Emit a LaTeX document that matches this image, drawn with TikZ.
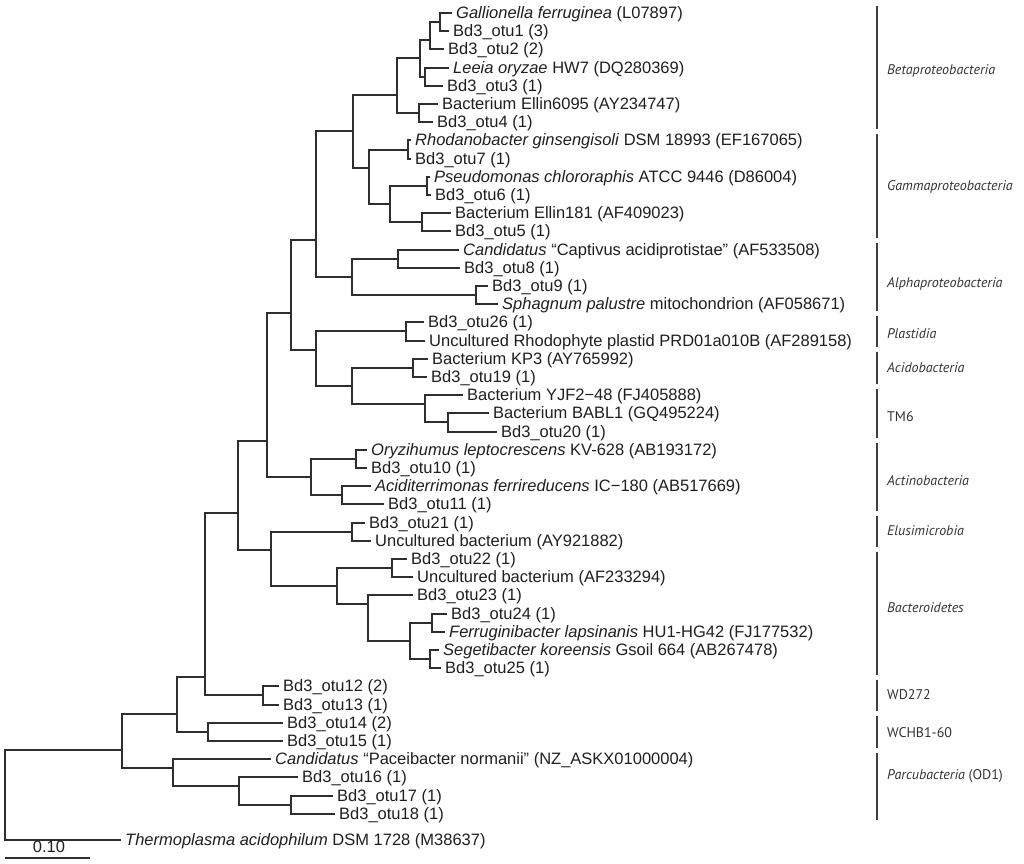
\documentclass[tikz,border=0pt]{standalone}
\usepackage{fontspec}
\setmainfont{Liberation Sans}
\newfontfamily\cladefont{PT Sans}
\begin{document}
\begin{tikzpicture}[x=1pt,y=-1pt,
  br/.style={draw=black!82, line width=2pt},
  cbar/.style={draw=black!75, line width=2pt},
  leaf/.style={anchor=west, inner xsep=4pt, inner ysep=0pt, text height=11.8pt, text depth=0pt, font=\fontsize{16.5}{18}\selectfont, text=black!88},
  clade/.style={anchor=west, inner sep=0pt, text height=9.8pt, text depth=0pt, font=\cladefont\fontsize{14}{16}\selectfont, text=black!80}]
\useasboundingbox (0,0) rectangle (1024,863);
% ---------- leaves ----------
\node[leaf] (L0) at (452,13) {\textit{Gallionella ferruginea} (L07897)};
\node[leaf] (L1) at (449,31) {Bd3\_otu1 (3)};
\node[leaf] (L2) at (444,49) {Bd3\_otu2 (2)};
\node[leaf] (L3) at (449,68) {\textit{Leeia oryzae} HW7 (DQ280369)};
\node[leaf] (L4) at (443,86) {Bd3\_otu3 (1)};
\node[leaf] (L5) at (438,104) {Bacterium Ellin6095 (AY234747)};
\node[leaf] (L6) at (433,122) {Bd3\_otu4 (1)};
\node[leaf] (L7) at (411,140) {\textit{Rhodanobacter ginsengisoli} DSM 18993 (EF167065)};
\node[leaf] (L8) at (411,159) {Bd3\_otu7 (1)};
\node[leaf] (L9) at (430,177) {\textit{Pseudomonas chlororaphis} ATCC 9446 (D86004)};
\node[leaf] (L10) at (431,195) {Bd3\_otu6 (1)};
\node[leaf] (L11) at (451,213) {Bacterium Ellin181 (AF409023)};
\node[leaf] (L12) at (451,231) {Bd3\_otu5 (1)};
\node[leaf] (L13) at (459,250) {\textit{Candidatus} “Captivus acidiprotistae" (AF533508)};
\node[leaf] (L14) at (460,268) {Bd3\_otu8 (1)};
\node[leaf] (L15) at (488,286) {Bd3\_otu9 (1)};
\node[leaf] (L16) at (498,304) {\textit{Sphagnum palustre} mitochondrion (AF058671)};
\node[leaf] (L17) at (424,322) {Bd3\_otu26 (1)};
\node[leaf] (L18) at (425,341) {Uncultured Rhodophyte plastid PRD01a010B (AF289158)};
\node[leaf] (L19) at (428,359) {Bacterium KP3 (AY765992)};
\node[leaf] (L20) at (427,377) {Bd3\_otu19 (1)};
\node[leaf] (L21) at (463,395) {Bacterium YJF2−48 (FJ405888)};
\node[leaf] (L22) at (489,413) {Bacterium BABL1 (GQ495224)};
\node[leaf] (L23) at (497,432) {Bd3\_otu20 (1)};
\node[leaf] (L24) at (367,450) {\textit{Oryzihumus leptocrescens} KV-628 (AB193172)};
\node[leaf] (L25) at (367,468) {Bd3\_otu10 (1)};
\node[leaf] (L26) at (371,486) {\textit{Aciditerrimonas ferrireducens} IC−180 (AB517669)};
\node[leaf] (L27) at (384,504) {Bd3\_otu11 (1)};
\node[leaf] (L28) at (365,523) {Bd3\_otu21 (1)};
\node[leaf] (L29) at (371,541) {Uncultured bacterium (AY921882)};
\node[leaf] (L30) at (407,559) {Bd3\_otu22 (1)};
\node[leaf] (L31) at (413,577) {Uncultured bacterium (AF233294)};
\node[leaf] (L32) at (413,595) {Bd3\_otu23 (1)};
\node[leaf] (L33) at (447,614) {Bd3\_otu24 (1)};
\node[leaf] (L34) at (445,632) {\textit{Ferruginibacter lapsinanis} HU1-HG42 (FJ177532)};
\node[leaf] (L35) at (439,650) {\textit{Segetibacter koreensis} Gsoil 664 (AB267478)};
\node[leaf] (L36) at (441,668) {Bd3\_otu25 (1)};
\node[leaf] (L37) at (279,686) {Bd3\_otu12 (2)};
\node[leaf] (L38) at (279,705) {Bd3\_otu13 (1)};
\node[leaf] (L39) at (283,723) {Bd3\_otu14 (2)};
\node[leaf] (L40) at (283,741) {Bd3\_otu15 (1)};
\node[leaf] (L41) at (271,759) {\textit{Candidatus} “Paceibacter normanii" (NZ\_ASKX01000004)};
\node[leaf] (L42) at (298,777) {Bd3\_otu16 (1)};
\node[leaf] (L43) at (333,796) {Bd3\_otu17 (1)};
\node[leaf] (L44) at (335,814) {Bd3\_otu18 (1)};
\node[leaf] (L45) at (121,840) {\textit{Thermoplasma acidophilum} DSM 1728 (M38637)};
% ---------- internal nodes ----------
\coordinate (nA) at (440,22);
\coordinate (nB) at (430,40);
\coordinate (nC) at (425,77);
\coordinate (nD) at (420,58);
\coordinate (nE) at (419,113);
\coordinate (nF) at (397,95);
\coordinate (nRh) at (408,150);
\coordinate (nPs) at (427,186);
\coordinate (nEl) at (422,222);
\coordinate (nPE) at (390,204);
\coordinate (nGam) at (369,168);
\coordinate (nG) at (353,131);
\coordinate (nCa) at (398,259);
\coordinate (nSp) at (476,295);
\coordinate (nAl) at (352,277);
\coordinate (nH) at (316,240);
\coordinate (nPl) at (406,331);
\coordinate (nAc) at (413,368);
\coordinate (nBA) at (448,422);
\coordinate (nTM) at (425,404);
\coordinate (nAT) at (352,386);
\coordinate (nPAT) at (316,350);
\coordinate (nXa) at (291,313);
\coordinate (nOr) at (356,459);
\coordinate (nAci) at (342,495);
\coordinate (nAct) at (311,477);
\coordinate (nXb) at (267,441);
\coordinate (nElu) at (352,532);
\coordinate (nBa) at (392,568);
\coordinate (nFe) at (432,623);
\coordinate (nSe) at (430,659);
\coordinate (nFS) at (410,641);
\coordinate (nBb) at (368,604);
\coordinate (nBac) at (337,586);
\coordinate (nEB) at (271,550);
\coordinate (nXc) at (238,513);
\coordinate (nWD) at (263,695);
\coordinate (nXd) at (205,677);
\coordinate (nWC) at (208,732);
\coordinate (nXe) at (177,714);
\coordinate (nPc) at (291,805);
\coordinate (nPb) at (239,786);
\coordinate (nPar) at (173,768);
\coordinate (nXf) at (122,750);
\coordinate (nRoot) at (5,795);
% ---------- branches ----------
\draw[br] (nA) |- (L0.west);  \draw[br] (nA) |- (L1.west);
\draw[br] (nB) |- (nA);       \draw[br] (nB) |- (L2.west);
\draw[br] (nC) |- (L3.west);  \draw[br] (nC) |- (L4.west);
\draw[br] (nD) |- (nB);       \draw[br] (nD) |- (nC);
\draw[br] (nE) |- (L5.west);  \draw[br] (nE) |- (L6.west);
\draw[br] (nF) |- (nD);       \draw[br] (nF) |- (nE);
\draw[br] (nRh) |- (L7.west); \draw[br] (nRh) |- (L8.west);
\draw[br] (nPs) |- (L9.west); \draw[br] (nPs) |- (L10.west);
\draw[br] (nEl) |- (L11.west);\draw[br] (nEl) |- (L12.west);
\draw[br] (nPE) |- (nPs);     \draw[br] (nPE) |- (nEl);
\draw[br] (nGam) |- (nRh);    \draw[br] (nGam) |- (nPE);
\draw[br] (nG) |- (nF);       \draw[br] (nG) |- (nGam);
\draw[br] (nCa) |- (L13.west);\draw[br] (nCa) |- (L14.west);
\draw[br] (nSp) |- (L15.west);\draw[br] (nSp) |- (L16.west);
\draw[br] (nAl) |- (nCa);     \draw[br] (nAl) |- (nSp);
\draw[br] (nH) |- (nG);       \draw[br] (nH) |- (nAl);
\draw[br] (nPl) |- (L17.west);\draw[br] (nPl) |- (L18.west);
\draw[br] (nAc) |- (L19.west);\draw[br] (nAc) |- (L20.west);
\draw[br] (nBA) |- (L22.west);\draw[br] (nBA) |- (L23.west);
\draw[br] (nTM) |- (L21.west);\draw[br] (nTM) |- (nBA);
\draw[br] (nAT) |- (nAc);     \draw[br] (nAT) |- (nTM);
\draw[br] (nPAT) |- (nPl);    \draw[br] (nPAT) |- (nAT);
\draw[br] (nXa) |- (nH);      \draw[br] (nXa) |- (nPAT);
\draw[br] (nOr) |- (L24.west);\draw[br] (nOr) |- (L25.west);
\draw[br] (nAci) |- (L26.west);\draw[br] (nAci) |- (L27.west);
\draw[br] (nAct) |- (nOr);    \draw[br] (nAct) |- (nAci);
\draw[br] (nXb) |- (nXa);     \draw[br] (nXb) |- (nAct);
\draw[br] (nElu) |- (L28.west);\draw[br] (nElu) |- (L29.west);
\draw[br] (nBa) |- (L30.west);\draw[br] (nBa) |- (L31.west);
\draw[br] (nFe) |- (L33.west);\draw[br] (nFe) |- (L34.west);
\draw[br] (nSe) |- (L35.west);\draw[br] (nSe) |- (L36.west);
\draw[br] (nFS) |- (nFe);     \draw[br] (nFS) |- (nSe);
\draw[br] (nBb) |- (L32.west);\draw[br] (nBb) |- (nFS);
\draw[br] (nBac) |- (nBa);    \draw[br] (nBac) |- (nBb);
\draw[br] (nEB) |- (nElu);    \draw[br] (nEB) |- (nBac);
\draw[br] (nXc) |- (nXb);     \draw[br] (nXc) |- (nEB);
\draw[br] (nWD) |- (L37.west);\draw[br] (nWD) |- (L38.west);
\draw[br] (nXd) |- (nXc);     \draw[br] (nXd) |- (nWD);
\draw[br] (nWC) |- (L39.west);\draw[br] (nWC) |- (L40.west);
\draw[br] (nXe) |- (nXd);     \draw[br] (nXe) |- (nWC);
\draw[br] (nPc) |- (L43.west);\draw[br] (nPc) |- (L44.west);
\draw[br] (nPb) |- (L42.west);\draw[br] (nPb) |- (nPc);
\draw[br] (nPar) |- (L41.west);\draw[br] (nPar) |- (nPb);
\draw[br] (nXf) |- (nXe);     \draw[br] (nXf) |- (nPar);
\draw[br] (nRoot) |- (nXf);   \draw[br] (nRoot) |- (L45.west);
% ---------- clade bars ----------
\foreach \nm/\ya/\yb in {bBeta/6/129, bGamma/134/238, bAlpha/243/311,
  bPlast/316/347, bAcido/352/384, bTM/389/438, bActino/443/511,
  bElusi/516/547, bBact/552/675, bWD/680/711, bWC/716/748, bParc/753/820}{
  \coordinate (\nm t) at (877,\ya);
  \coordinate (\nm b) at (877,\yb);
  \draw[cbar] (\nm t) -- (\nm b);
}
\node[clade] (cBeta) at (887,70) {\textit{Betaproteobacteria}};
\node[clade] (cGamma) at (887,186) {\textit{Gammaproteobacteria}};
\node[clade] (cAlpha) at (887,283) {\textit{Alphaproteobacteria}};
\node[clade] (cPlast) at (887,334) {\textit{Plastidia}};
\node[clade] (cAcido) at (887,368) {\textit{Acidobacteria}};
\node[clade] (cTM) at (887,417) {TM6};
\node[clade] (cActino) at (887,481) {\textit{Actinobacteria}};
\node[clade] (cElusi) at (887,531) {\textit{Elusimicrobia}};
\node[clade] (cBact) at (887,608) {\textit{Bacteroidetes}};
\node[clade] (cWD) at (887,695) {WD272};
\node[clade] (cWC) at (887,733) {WCHB1-60};
\node[clade] (cParc) at (887,775) {\textit{Parcubacteria} (OD1)};
% ---------- scale bar ----------
\coordinate (sA) at (5,858);
\coordinate (sB) at (90,858);
\draw[br] (sA) -- (sB);
\node[inner sep=0pt, text height=11.8pt, text depth=0pt, font=\fontsize{16.5}{18}\selectfont, text=black!88] (sLab) at (49,847) {0.10};
\end{tikzpicture}
\end{document}
